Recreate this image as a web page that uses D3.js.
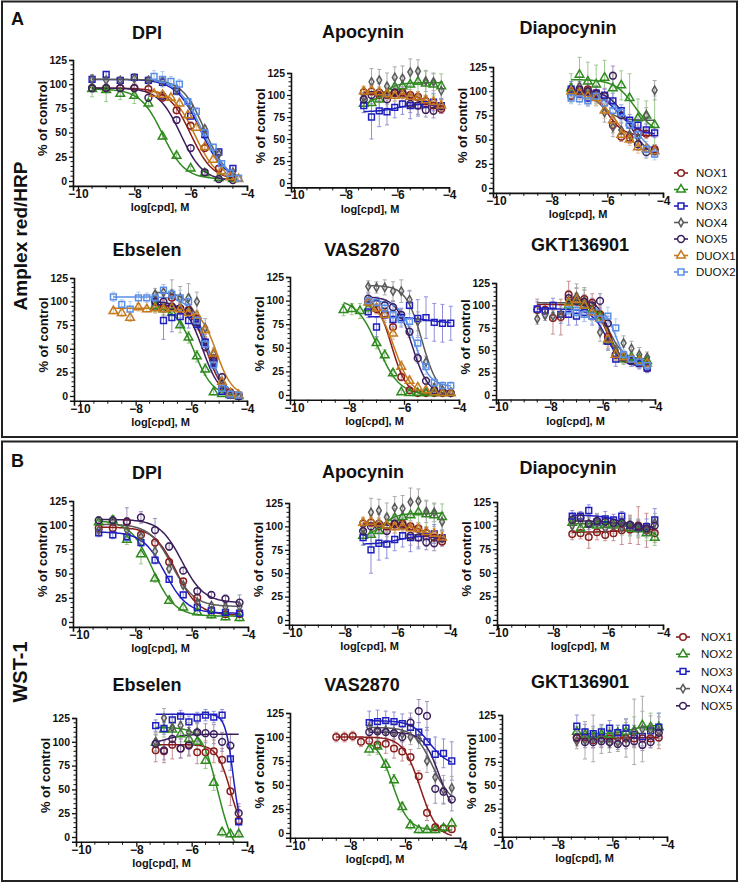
<!DOCTYPE html>
<html><head><meta charset="utf-8">
<script src="https://cdn.jsdelivr.net/npm/d3@7"></script>
<style>body{margin:0;background:#fff}svg{display:block;font-family:"Liberation Sans",Arial,sans-serif}</style>
</head><body><svg id="c" width="740" height="888"></svg>
<script>
// ---------- data ----------
const seriesNames = ["NOX1","NOX2","NOX3","NOX4","NOX5","DUOX1","DUOX2"];
const seriesColors = ["#8B1C1C","#2F8A1F","#1F1FBF","#5A5A5A","#3B1F5C","#C47A1E","#5B8FE6"];
const errorColors = ["#C79090","#9CC890","#9090DC","#ABABAB","#A090B8","#E5C190","#B2CBF2"];
const compounds = ["DPI","Apocynin","Diapocynin","Ebselen","VAS2870","GKT136901"];
const assays = ["Amplex red/HRP","WST-1"];
const panelLetters = ["A","B"];
const xTicks = [-10,-8,-6,-4];
const yTicks = [0,25,50,75,100,125];
const xTitle = "log[cpd], M";
const yTitle = "% of control";

// log10 concentrations
const dA  = [-9.5,-9.0,-8.5,-8.0,-7.5,-7.0,-6.5,-6.0,-5.5,-5.0,-4.5];
const dB  = [-9.3,-8.8,-8.3,-7.8,-7.3,-6.8,-6.3,-5.8,-5.3,-4.8,-4.3];
const d6  = [-7.3,-7.0,-6.7,-6.4,-6.1,-5.8];
const d11 = [-7.3,-7.0,-6.7,-6.4,-6.1,-5.8,-5.5,-5.2,-4.9,-4.6,-4.3];
const d14 = [-8.2,-7.9,-7.6,-7.3,-7.0,-6.7,-6.4,-6.1,-5.8,-5.5,-5.2,-4.9,-4.6,-4.3];
const d15 = [-8.5,-8.2,-7.9,-7.6,-7.3,-7.0,-6.7,-6.4,-6.1,-5.8,-5.5,-5.2,-4.9,-4.6,-4.3];
const d16 = [-8.8,-8.5,-8.2,-7.9,-7.6,-7.3,-7.0,-6.7,-6.4,-6.1,-5.8,-5.5,-5.2,-4.9,-4.6,-4.3];

// rows: [series, doses, mean %, SD, fit [left plateau, right plateau, logX50, slope]]
const ampDPI = [
  ["NOX1", dA, [96,96,96,96,95,86,73,57,34,13,4], [4,4,3,5,3,3,3,4,3,2,2], [96,1,-6.0,1.1]],
  ["NOX2", dA, [95,94,90,88,80,46,26,13,8,3,2], [8,12,6,8,4,3,3,2,2,1,1], [95,2,-7.0,1.1]],
  ["NOX3", dA, [105,110,104,107,104,102,93,67,48,30,13], [4,3,3,4,3,4,4,3,4,3,3], [105,0,-5.65,1.0]],
  ["NOX4", dA, [105,104,104,106,104,103,95,78,54,28,9], [5,4,3,5,4,4,4,4,3,3,3], [105,0,-5.5,1.1]],
  ["NOX5", dA, [96,96,96,96,86,88,63,34,9,2,1], [4,3,4,3,3,4,3,3,2,2,1], [96,0,-6.35,1.1]],
  ["DUOX1", d11, [90,89,86,80,68,55,35,22,10,4,2], [3,3,3,3,3,3,3,3,3,2,2], [95,0,-5.85,1.1]],
  ["DUOX2", d11, [108,105,103,100,82,72,50,35,18,8,3], [6,8,5,5,4,4,4,3,3,2,2], [106,0,-5.6,1.0]]
];
const apocynin = [
  ["NOX1", d11, [103,104,100,100,102,103,100,98,93,88,84], [6,8,6,7,6,7,6,6,5,6,5], [103,80,-4.8,1.2]],
  ["NOX2", d11, [90,91,95,101,109,110,112,115,113,112,110], [10,12,14,12,10,12,14,15,14,12,14], [88,114,-6.6,1.5]],
  ["NOX3", d11, [88,75,82,81,86,90,88,88,89,92,88], [8,25,18,15,12,12,15,12,10,10,8], [81,90,-6.0,1.2]],
  ["NOX4", d11, [97,115,117,110,120,119,126,127,116,115,105], [10,15,12,15,12,14,15,13,12,10,10], null],
  ["NOX5", d11, [95,100,103,95,103,101,90,88,83,82,87], [8,10,10,10,10,8,10,10,8,8,8], [102,85,-5.2,1.2]],
  ["DUOX1", d11, [104,105,103,101,99,100,98,97,94,92,88], [6,6,6,6,6,6,6,6,6,6,6], [104,85,-5.0,1.0]]
];
const diaA = [
  ["NOX1", d11, [95,100,102,98,88,65,53,52,58,56,40], [5,8,10,8,6,8,5,6,6,5,5], [101,54,-6.0,1.5]],
  ["NOX2", d11, [103,117,110,107,114,103,106,93,72,75,65], [15,18,20,20,18,15,15,25,20,15,30], [112,55,-5.0,1.2]],
  ["NOX3", d11, [102,97,93,98,96,90,80,70,65,60,57], [8,8,8,6,6,8,6,6,6,6,5], [100,55,-5.6,1.2]],
  ["NOX4", d11, [100,105,100,95,78,63,60,55,52,75,101], [8,10,12,10,10,10,8,8,8,8,10], [100,70,-6.2,1.5]],
  ["NOX5", d11, [100,102,100,97,95,116,75,65,45,37,38], [6,8,8,8,8,10,8,8,6,6,6], [101,30,-5.2,1.2]],
  ["DUOX1", d11, [100,98,95,93,80,70,55,50,42,40,38], [6,6,8,8,8,8,6,6,6,5,5], [100,32,-5.6,1.0]],
  ["DUOX2", d11, [93,92,90,95,88,80,78,65,55,40,35], [6,6,6,6,8,8,8,8,8,8,6], [98,30,-5.1,1.0]]
];
const ebsA = [
  ["NOX1", d11, [94,93,104,92,91,82,57,40,10,4,1], [6,8,8,6,6,6,6,6,4,3,2], [96,0,-5.45,1.5]],
  ["NOX2", d11, [95,92,88,75,62,42,28,4,2,1,0], [6,6,8,8,6,6,6,3,2,2,2], [95,0,-5.9,1.3]],
  ["NOX3", d11, [100,80,83,84,80,76,57,35,5,1,0], [8,20,15,10,8,6,8,6,3,2,2], [97,0,-5.4,1.4]],
  ["NOX4", d11, [108,110,108,104,104,100,72,45,13,2,0], [6,8,15,12,15,10,10,6,4,3,2], [110,0,-5.45,1.4]],
  ["NOX5", d11, [100,100,95,93,90,78,52,37,20,3,0], [6,6,6,6,6,6,5,5,4,3,2], [100,0,-5.6,1.4]],
  ["DUOX1", d16, [90,88,83,94,92,93,92,93,92,88,85,70,45,15,3,1], [3,4,4,4,3,4,4,4,4,4,4,4,4,4,3,2], [93,0,-5.1,1.5]],
  ["DUOX2", d16, [105,97,92,104,104,104,112,108,104,100,80,55,33,8,2,1], [5,5,8,6,5,5,6,5,8,8,8,6,6,4,3,2], [105,0,-5.45,1.4]]
];
const vasA = [
  ["NOX1", d11, [98,91,86,72,19,5,2,2,2,2,2], [5,5,5,5,4,3,2,2,2,2,2], [104,0,-6.45,1.6]],
  ["NOX2", d14, [90,91,89,92,55,42,23,3,2,2,2,2,2,2], [6,6,8,5,6,6,4,2,2,2,2,2,2,2], [102,0,-6.95,1.1]],
  ["NOX3", d11, [88,72,85,80,82,95,81,82,77,76,76], [6,10,8,8,10,15,20,22,20,20,18], [83,76,-5.2,1.0]],
  ["NOX4", d11, [115,114,114,110,110,101,78,35,8,5,3], [6,6,8,10,12,10,10,6,4,3,2], [116,0,-5.35,1.5]],
  ["NOX5", d11, [102,97,95,93,85,67,39,15,5,3,2], [6,6,6,6,6,6,5,4,3,2,2], [104,0,-5.7,1.5]],
  ["DUOX1", d11, [98,92,85,65,30,15,8,5,3,2,2], [5,5,6,6,6,5,4,3,2,2,2], [100,0,-6.35,1.4]],
  ["DUOX2", d11, [100,98,92,85,80,78,55,30,13,10,10], [6,6,6,6,6,8,8,8,5,4,4], [100,9,-5.6,1.6]]
];
const gktA = [
  ["NOX1", d15, [95,95,86,87,112,107,107,103,90,65,45,42,40,38,30], [12,8,18,20,15,12,10,10,10,8,6,6,6,6,5], [101,33,-5.8,1.8]],
  ["NOX2", d11, [100,105,100,95,88,60,45,40,42,40,38], [10,15,18,12,10,10,8,6,6,6,6], [102,37,-5.8,1.8]],
  ["NOX3", d15, [96,94,100,90,90,88,92,88,85,60,40,42,38,35,30], [8,8,8,10,12,10,10,10,10,10,8,6,6,6,5], [96,32,-5.85,1.5]],
  ["NOX4", d15, [85,89,88,90,105,110,105,95,70,62,50,58,52,45,42], [6,6,6,8,12,14,15,12,10,10,8,8,8,8,6], [103,40,-5.75,1.6]],
  ["NOX5", d11, [108,105,104,100,105,80,45,42,38,36,33], [8,8,8,8,8,8,6,6,6,6,5], [106,34,-5.75,2.0]],
  ["DUOX1", d11, [103,106,100,92,85,62,45,42,40,38,35], [8,8,8,8,8,8,6,6,6,6,5], [104,35,-5.8,1.8]],
  ["DUOX2", d11, [95,92,90,88,85,88,75,45,40,37,33], [8,8,8,8,8,10,10,8,6,6,5], [98,33,-5.5,2.0]]
];
const wstDPI = [
  ["NOX1", dB, [97,97,103,90,82,62,42,25,12,8,8], [6,4,5,4,4,4,3,3,3,3,3], [98,7,-6.55,1.1]],
  ["NOX2", dB, [103,105,85,70,45,22,15,10,7,5,4], [6,5,5,10,4,3,3,3,3,3,3], [105,6,-7.4,1.1]],
  ["NOX3", dB, [92,90,88,82,64,44,28,15,12,10,9], [4,4,4,4,4,3,3,3,3,3,3], [93,9,-6.95,1.1]],
  ["NOX4", dB, [95,104,95,88,73,55,38,20,17,16,16], [5,4,5,4,4,4,3,3,3,3,3], [101,16,-6.7,1.1]],
  ["NOX5", dB, [105,105,104,108,95,78,53,32,28,24,20], [4,4,14,6,12,4,3,3,3,4,8], [106,20,-6.35,1.1]]
];
const diaB = [
  ["NOX1", d11, [91,92,88,93,90,92,95,96,100,95,92], [6,6,12,8,6,8,15,15,20,18,10], [93,96,-5.5,1.0]],
  ["NOX2", d11, [103,97,101,100,101,100,102,97,96,92,87], [8,8,8,8,6,6,6,8,8,8,8], [102,88,-4.6,1.5]],
  ["NOX3", d11, [110,110,116,104,107,106,110,100,98,99,106], [6,5,6,8,8,6,5,8,8,8,12], [111,97,-5.5,1.2]],
  ["NOX4", d11, [100,104,102,103,97,100,98,100,97,95,103], [8,8,10,10,10,8,8,10,10,8,10], null],
  ["NOX5", d11, [106,108,102,105,104,103,103,101,99,97,100], [6,6,6,6,6,6,6,6,6,6,8], [105,98,-5.3,1.0]]
];
const ebsB = [
  ["NOX1", d11, [91,90,97,93,97,89,89,90,81,48,17], [12,12,15,10,12,12,12,12,12,15,15], [97,0,-4.6,1.8]],
  ["NOX2", d11, [99,113,113,108,103,100,80,57,5,3,3], [8,8,8,8,8,8,8,8,4,3,3], [115,-20,-5.05,1.5]],
  ["NOX3", d11, [117,114,123,127,121,125,128,126,128,82,16], [6,6,6,6,6,6,6,6,6,12,10], [129,0,-4.5,3.0]],
  ["NOX4", d6, [100,125,115,117,110,110], [10,10,10,10,10,10], null],
  ["NOX5", d11, [98,91,103,93,96,110,109,108,100,96,25], [10,10,10,10,10,10,10,10,10,12,10], [96,108,-7.0,1.2]]
];
const vasB = [
  ["NOX1", d15, [100,100,101,95,96,92,93,88,85,79,59,21,6,5,4], [5,5,5,5,6,8,10,10,10,8,6,8,4,3,3], [100,-5,-5.45,1.4]],
  ["NOX2", d11, [87,90,71,55,27,8,3,3,3,5,10], [6,8,6,6,5,4,3,3,3,3,3], [98,3,-6.45,1.5]],
  ["NOX3", d11, [115,116,117,116,114,110,105,95,82,83,75], [12,12,10,10,10,10,10,15,18,15,20], [117,70,-5.1,1.3]],
  ["NOX4", d11, [110,106,107,105,103,100,98,75,58,45,47], [8,8,8,8,8,8,10,12,15,15,12], [110,30,-5.0,1.3]],
  ["NOX5", d11, [105,106,105,104,100,115,127,122,46,43,35], [10,10,10,10,10,10,12,15,15,12,12], [105,15,-4.75,1.5]]
];
const gktB = [
  ["NOX1", d11, [100,101,98,100,100,101,100,100,100,100,101], [8,8,8,10,10,8,8,10,10,10,12], [100,101,-5.5,1.0]],
  ["NOX2", d11, [107,104,103,104,104,106,107,108,114,112,112], [6,6,8,8,8,8,10,15,15,15,15], [105,114,-5.3,1.5]],
  ["NOX3", d11, [113,107,105,107,111,106,111,104,102,108,112], [12,8,8,8,8,8,10,10,10,8,15], null],
  ["NOX4", d11, [97,98,100,99,95,96,100,107,110,109,108], [8,20,25,15,10,10,20,35,35,15,15], null],
  ["NOX5", d11, [101,96,96,97,96,94,95,97,93,96,106], [6,6,6,6,6,6,6,6,6,6,6], null]
];

// ---------- drawing ----------
const svg = d3.select("#c");
svg.append("rect").attr("width",740).attr("height",888).attr("fill","#fff");
svg.append("rect").attr("x",2).attr("y",1.5).attr("width",735).attr("height",435.5)
  .attr("fill","none").attr("stroke","#222").attr("stroke-width",2);
svg.append("rect").attr("x",2).attr("y",441.5).attr("width",735).attr("height",439.5)
  .attr("fill","none").attr("stroke","#222").attr("stroke-width",2);

const colorOf = n => seriesColors[seriesNames.indexOf(n)];
const errOf = n => errorColors[seriesNames.indexOf(n)];
const symType = {NOX1:d3.symbolCircle, NOX2:d3.symbolTriangle, NOX3:d3.symbolSquare, NOX4:d3.symbolDiamond,
                 NOX5:d3.symbolCircle, DUOX1:d3.symbolTriangle, DUOX2:d3.symbolSquare};
const symSize = {NOX1:34, NOX2:32, NOX3:34, NOX4:20, NOX5:36, DUOX1:32, DUOX2:34};
const fitY = (p, x) => p[1] + (p[0] - p[1]) / (1 + Math.pow(10, (x - p[2]) * p[3]));

const layout = [
  {data:ampDPI,   title:compounds[0], L:73,  X10:78,  X4:247, T:60,  Y0:181, tx:147, ty:39},
  {data:apocynin, title:compounds[1], L:291, X10:294, X4:449, T:73,  Y0:183, tx:363, ty:38},
  {data:diaA,     title:compounds[2], L:493, X10:496, X4:663, T:67,  Y0:188, tx:568, ty:34},
  {data:ebsA,     title:compounds[3], L:74,  X10:80,  X4:247, T:278, Y0:396, tx:147, ty:256},
  {data:vasA,     title:compounds[4], L:290, X10:294, X4:459, T:277, Y0:395, tx:362, ty:256},
  {data:gktA,     title:compounds[5], L:496, X10:498, X4:655, T:283, Y0:395, tx:580, ty:251},
  {data:wstDPI,   title:compounds[0], L:73,  X10:79,  X4:248, T:501, Y0:622, tx:147, ty:479},
  {data:apocynin, title:compounds[1], L:289, X10:292, X4:450, T:503, Y0:620, tx:363, ty:478},
  {data:diaB,     title:compounds[2], L:497, X10:498, X4:663, T:502, Y0:620, tx:568, ty:474},
  {data:ebsB,     title:compounds[3], L:76,  X10:81,  X4:247, T:718, Y0:837, tx:147, ty:691},
  {data:vasB,     title:compounds[4], L:290, X10:295, X4:460, T:713, Y0:833, tx:362, ty:691},
  {data:gktB,     title:compounds[5], L:502, X10:503, X4:667, T:715, Y0:832, tx:580, ty:688}
];

layout.forEach((P, pi) => {
  const g = svg.append("g");
  const x = d3.scaleLinear().domain([-10,-4]).range([P.X10, P.X4]);
  const xAx = d3.scaleLinear().domain([x.invert(P.L), -4]).range([P.L, P.X4]);
  const y = d3.scaleLinear().domain([0,125]).range([P.Y0, P.T]);
  const yAx = d3.scaleLinear().domain([-5,125]).range([y(-5), P.T]);
  const axisY = y(-5);

  const cid = "clip" + pi;
  svg.append("clipPath").attr("id", cid).append("rect")
    .attr("x", P.L).attr("y", P.T - 40).attr("width", P.X4 - P.L + 6).attr("height", axisY - P.T + 40);

  // title
  g.append("text").attr("x", P.tx).attr("y", P.ty).attr("text-anchor","middle")
    .attr("font-size",18).attr("font-weight","bold").attr("fill","#111").text(P.title);

  // error bars
  const eg = g.append("g").attr("clip-path", `url(#${cid})`);
  P.data.forEach(([name, xs, ys, es]) => {
    xs.forEach((xv, i) => {
      const cx = x(xv), y1 = y(ys[i] + es[i]), y2 = y(Math.max(ys[i] - es[i], -5));
      const c = errOf(name);
      eg.append("line").attr("x1",cx).attr("x2",cx).attr("y1",y1).attr("y2",y2).attr("stroke",c).attr("stroke-width",1);
      eg.append("line").attr("x1",cx-2).attr("x2",cx+2).attr("y1",y1).attr("y2",y1).attr("stroke",c).attr("stroke-width",1);
      eg.append("line").attr("x1",cx-2).attr("x2",cx+2).attr("y1",y2).attr("y2",y2).attr("stroke",c).attr("stroke-width",1);
    });
  });

  // fitted curves
  const line = d3.line().x(d => x(d[0])).y(d => y(d[1]));
  const cg = g.append("g").attr("clip-path", `url(#${cid})`);
  P.data.forEach(([name, xs, ys, es, fit]) => {
    if (!fit) return;
    const [a, b] = d3.extent(xs);
    const pts = d3.range(0, 101).map(i => { const xv = a + (b - a) * i / 100; return [xv, fitY(fit, xv)]; });
    cg.append("path").attr("d", line(pts)).attr("fill","none")
      .attr("stroke", colorOf(name)).attr("stroke-width", 1.5);
  });

  // markers
  P.data.forEach(([name, xs, ys]) => {
    const sym = d3.symbol().type(symType[name]).size(symSize[name]);
    xs.forEach((xv, i) => {
      g.append("path").attr("d", sym()).attr("transform", `translate(${x(xv)},${y(ys[i])})`)
        .attr("fill","none").attr("stroke", colorOf(name)).attr("stroke-width", 1.5);
    });
  });

  // axes
  const xa = g.append("g").attr("transform", `translate(0,${axisY})`)
    .call(d3.axisBottom(xAx).tickValues(xTicks).tickSize(5).tickFormat(d3.format("d")));
  xa.select(".domain").attr("stroke","#111").attr("stroke-width",1.6);
  xa.selectAll(".tick line").attr("stroke","#111").attr("stroke-width",1.3);
  xa.selectAll(".tick text").attr("font-size",12).attr("font-weight","bold").attr("fill","#111")
    .attr("font-family","Liberation Sans, Arial, sans-serif").attr("dy",null).attr("y",12);
  xa.selectAll(".minor").data(d3.range(-10, -4.01, 0.5).filter(v => !xTicks.includes(v)))
    .enter().append("line").attr("x1", d => xAx(d)).attr("x2", d => xAx(d)).attr("y1",0).attr("y2",3)
    .attr("stroke","#111").attr("stroke-width",1);

  const ya = g.append("g").attr("transform", `translate(${P.L},0)`)
    .call(d3.axisLeft(yAx).tickValues(yTicks).tickSize(4));
  ya.select(".domain").attr("stroke","#111").attr("stroke-width",1.6);
  ya.selectAll(".tick line").attr("stroke","#111").attr("stroke-width",1.3);
  ya.selectAll(".tick text").attr("font-size",10.5).attr("font-weight","bold").attr("fill","#111")
    .attr("font-family","Liberation Sans, Arial, sans-serif").attr("x",-6);
  ya.selectAll(".minor").data(d3.range(5, 125, 5).filter(v => v % 25 !== 0))
    .enter().append("line").attr("x1",-2.5).attr("x2",0).attr("y1", d => yAx(d)).attr("y2", d => yAx(d))
    .attr("stroke","#111").attr("stroke-width",1);

  g.append("text").attr("x", (P.L + P.X4) / 2).attr("y", axisY + 25.5).attr("text-anchor","middle")
    .attr("font-size",11).attr("font-weight","bold").attr("fill","#111").text(xTitle);
  g.append("text").attr("transform", `translate(${P.L - 26},${(P.T + P.Y0) / 2 - 2}) rotate(-90)`)
    .attr("text-anchor","middle").attr("font-size",13).attr("font-weight","bold").attr("fill","#111").text(yTitle);
});

// side labels
svg.append("text").attr("x",11).attr("y",25).attr("font-size",18).attr("font-weight","bold").attr("fill","#111").text(panelLetters[0]);
svg.append("text").attr("x",11).attr("y",467).attr("font-size",18).attr("font-weight","bold").attr("fill","#111").text(panelLetters[1]);
svg.append("text").attr("transform","translate(27,236) rotate(-90)").attr("text-anchor","middle")
  .attr("font-size",19).attr("font-weight","bold").attr("fill","#111").text(assays[0]);
svg.append("text").attr("transform","translate(27,672) rotate(-90)").attr("text-anchor","middle")
  .attr("font-size",20).attr("font-weight","bold").attr("fill","#111").text(assays[1]);

// legends
function legend(names, mx, tx, y0, step) {
  names.forEach((n, i) => {
    const yy = y0 + i * step;
    svg.append("line").attr("x1", mx - 7).attr("x2", mx + 7).attr("y1", yy).attr("y2", yy)
      .attr("stroke", colorOf(n)).attr("stroke-width", 1.6);
    svg.append("path").attr("d", d3.symbol().type(symType[n]).size(symSize[n])())
      .attr("transform", `translate(${mx},${yy})`).attr("fill","#fff").attr("stroke", colorOf(n)).attr("stroke-width",1.5);
    svg.append("text").attr("x", tx).attr("y", yy).attr("dy","0.36em").attr("font-size",11.5)
      .attr("fill","#111").text(n);
  });
}
legend(seriesNames, 681, 696, 173, 16.5);
legend(seriesNames.slice(0,5), 683, 701, 637, 17.2);
</script></body></html>
